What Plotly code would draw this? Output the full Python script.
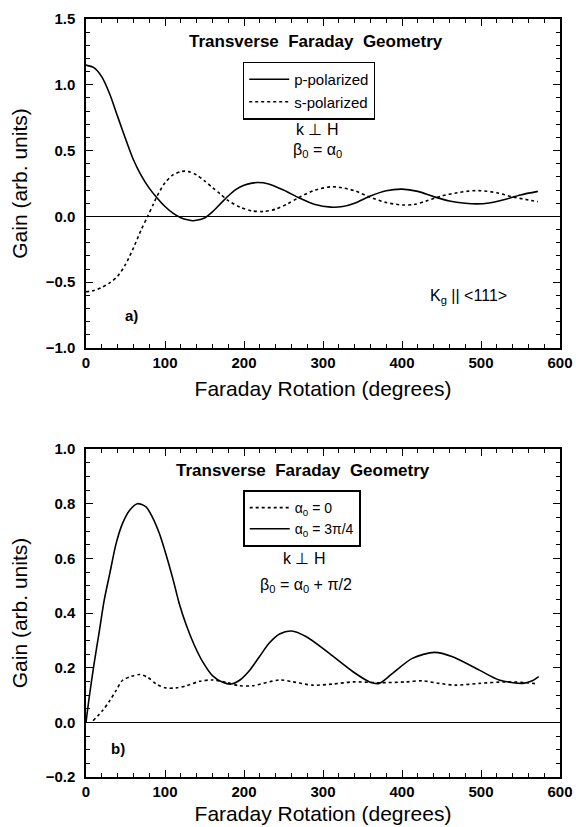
import plotly.graph_objects as go

# ---------------- data ----------------
# Panel a) : Transverse Faraday geometry, beta0 = alpha0
x_p = [0, 10, 20, 30, 40, 50, 60, 70, 80, 90, 100, 110, 120, 130, 135, 140, 150,
       160, 170, 180, 190, 200, 210, 218, 230, 250, 270, 290, 310, 325, 340, 360,
       380, 400, 420, 440, 460, 480, 495, 510, 530, 550, 572]
y_p = [1.15, 1.13, 1.06, 0.93, 0.76, 0.59, 0.43, 0.31, 0.215, 0.14, 0.075, 0.025,
       -0.01, -0.028, -0.033, -0.03, -0.012, 0.035, 0.095, 0.155, 0.205, 0.237,
       0.253, 0.257, 0.248, 0.2, 0.14, 0.09, 0.07, 0.075, 0.1, 0.155, 0.195, 0.207,
       0.19, 0.15, 0.117, 0.1, 0.095, 0.102, 0.128, 0.163, 0.19]

x_s = [0, 10, 20, 30, 40, 50, 60, 70, 78, 85, 90, 100, 110, 120, 125, 130, 140,
       150, 160, 170, 180, 195, 210, 225, 240, 255, 270, 290, 310, 320, 340, 360,
       380, 400, 415, 430, 450, 470, 490, 500, 520, 540, 560, 572]
y_s = [-0.573, -0.563, -0.54, -0.505, -0.455, -0.365, -0.24, -0.1, 0.0, 0.09, 0.155,
       0.255, 0.315, 0.34, 0.344, 0.34, 0.315, 0.27, 0.22, 0.17, 0.12, 0.07, 0.042,
       0.037, 0.055, 0.095, 0.145, 0.2, 0.225, 0.222, 0.195, 0.145, 0.105, 0.087,
       0.09, 0.115, 0.155, 0.18, 0.195, 0.195, 0.18, 0.148, 0.125, 0.112]

# Panel b) : Transverse Faraday geometry, beta0 = alpha0 + pi/2
x_b0 = [9, 21, 30, 38, 46, 57, 68, 78, 89, 101, 114, 127, 144, 160, 177, 194, 211,
        245, 262, 287, 312, 338, 371, 405, 426, 447, 468, 498, 532, 558, 572]
y_b0 = [0.006, 0.043, 0.079, 0.116, 0.153, 0.168, 0.175, 0.165, 0.14, 0.126, 0.126,
        0.134, 0.15, 0.155, 0.1465, 0.134, 0.134, 0.155, 0.148, 0.136, 0.14, 0.148,
        0.145, 0.148, 0.152, 0.1425, 0.136, 0.1425, 0.148, 0.145, 0.14]

x_b34 = [0, 4, 10, 17, 23, 30, 38, 46, 55, 65, 76, 84, 93, 101, 110, 118, 127, 137,
         148, 160, 173, 184, 194, 207, 219, 232, 245, 260, 279, 308, 338, 359, 371,
         388, 413, 441, 464, 498, 523, 553, 565, 573]
y_b34 = [0.0, 0.09, 0.21, 0.336, 0.446, 0.543, 0.653, 0.726, 0.775, 0.80, 0.788,
         0.751, 0.69, 0.617, 0.525, 0.435, 0.355, 0.283, 0.22, 0.171, 0.1465, 0.14,
         0.153, 0.19, 0.238, 0.29, 0.323, 0.334, 0.313, 0.252, 0.185, 0.148, 0.1425,
         0.179, 0.234, 0.256, 0.24, 0.191, 0.155, 0.1425, 0.152, 0.167]

x_ticks = [0, 100, 200, 300, 400, 500, 600]
y_ticks_a = [-1.0, -0.5, 0.0, 0.5, 1.0, 1.5]
y_ticks_b = [-0.2, 0.0, 0.2, 0.4, 0.6, 0.8, 1.0]

# ---------------- styling ----------------
FONT = "Liberation Sans"
BLACK = "black"
LW = 1.6

fig = go.Figure()

fig.add_trace(go.Scatter(x=x_p, y=y_p, mode="lines", name="p-polarized",
                         line=dict(color=BLACK, width=LW, shape="spline", smoothing=0.8),
                         xaxis="x", yaxis="y", legend="legend"))
fig.add_trace(go.Scatter(x=x_s, y=y_s, mode="lines", name="s-polarized",
                         line=dict(color=BLACK, width=LW, dash="dot", shape="spline", smoothing=0.8),
                         xaxis="x", yaxis="y", legend="legend"))
fig.add_trace(go.Scatter(x=x_b0, y=y_b0, mode="lines", name="α<sub>0</sub> = 0",
                         line=dict(color=BLACK, width=LW, dash="dot", shape="spline", smoothing=0.8),
                         xaxis="x2", yaxis="y2", legend="legend2"))
fig.add_trace(go.Scatter(x=x_b34, y=y_b34, mode="lines", name="α<sub>0</sub> = 3π/4",
                         line=dict(color=BLACK, width=LW, shape="spline", smoothing=0.8),
                         xaxis="x2", yaxis="y2", legend="legend2"))

tickfont = dict(family=FONT, size=15, color=BLACK, weight="bold")
titlefont = dict(family=FONT, size=21, color=BLACK)


def xaxis(anchor, standoff):
    return dict(anchor=anchor, domain=[0, 1], range=[0, 600], tickvals=x_ticks,
                ticks="inside", ticklen=7, tickwidth=1.3, tickcolor=BLACK,
                minor=dict(ticks="inside", dtick=20, ticklen=4, tickwidth=1, tickcolor=BLACK),
                showline=True, linecolor=BLACK, linewidth=1.5, mirror="ticks",
                showgrid=False, zeroline=False, tickfont=tickfont, automargin=False,
                title=dict(text="Faraday Rotation (degrees)", font=titlefont, standoff=standoff))


def yaxis(anchor, dom, rng, tv, mdt):
    return dict(anchor=anchor, domain=dom, range=rng, tickvals=tv, tickformat=".1f",
                ticks="inside", ticklen=7, tickwidth=1.3, tickcolor=BLACK,
                minor=dict(ticks="inside", dtick=mdt, ticklen=4, tickwidth=1, tickcolor=BLACK),
                showline=True, linecolor=BLACK, linewidth=1.5, mirror="ticks",
                showgrid=False, zeroline=True, zerolinecolor=BLACK, zerolinewidth=1.3,
                tickfont=tickfont, ticklabelstandoff=6, automargin=False,
                title=dict(text="Gain (arb. units)", font=titlefont, standoff=12))


ann_font = dict(family=FONT, size=16, color=BLACK)
bold_font = dict(family=FONT, size=15, color=BLACK, weight="bold")
title_font = dict(family=FONT, size=17, color=BLACK, weight="bold")
sp = "\u00a0"
title_txt = f"Transverse{sp}{sp}Faraday{sp}{sp}Geometry"


def ann(text, x, y, xref, yref, font):
    return dict(text=text, x=x, y=y, xref=xref, yref=yref, showarrow=False,
                xanchor="center", yanchor="middle", font=font)


annotations = [
    ann(title_txt, 0.486, 0.931, "x domain", "y domain", title_font),
    ann("k ⊥ H", 0.488, 0.665, "x domain", "y domain", ann_font),
    ann("β<sub>0</sub> = α<sub>0</sub>", 0.488, 0.600, "x domain", "y domain", ann_font),
    ann("a)", 0.096, 0.10, "x domain", "y domain", bold_font),
    ann("K<sub>g</sub> || &lt;111&gt;", 0.806, 0.156, "x domain", "y domain", ann_font),
    ann(title_txt, 0.458, 0.936, "x2 domain", "y2 domain", title_font),
    ann("k ⊥ H", 0.46, 0.665, "x2 domain", "y2 domain", ann_font),
    ann("β<sub>0</sub> = α<sub>0</sub> + π/2", 0.464, 0.585, "x2 domain", "y2 domain", ann_font),
    ann("b)", 0.0675, 0.088, "x2 domain", "y2 domain", bold_font),
]

fig.update_layout(
    width=576, height=827,
    margin=dict(l=86, r=16, t=19, b=50, autoexpand=False),
    paper_bgcolor="white", plot_bgcolor="white",
    font=dict(family=FONT, color=BLACK),
    xaxis=xaxis("y", 12),
    yaxis=yaxis("x", [0.566, 1.0], [-1.0, 1.5], y_ticks_a, 0.1),
    xaxis2=xaxis("y2", 8),
    yaxis2=yaxis("x2", [0.0, 0.4327], [-0.2, 1.0], y_ticks_b, 0.05),
    legend=dict(x=0.331, y=0.9437, xanchor="left", yanchor="top",
                bgcolor="white", bordercolor=BLACK, borderwidth=1.3,
                font=dict(family=FONT, size=15, color=BLACK),
                itemwidth=40, tracegroupgap=0),
    legend2=dict(x=0.3306, y=0.3786, xanchor="left", yanchor="top",
                 bgcolor="white", bordercolor=BLACK, borderwidth=2,
                 font=dict(family=FONT, size=14, color=BLACK),
                 itemwidth=40, tracegroupgap=0),
    annotations=annotations,
    showlegend=True,
)

# Remove the page's default body margin so the figure sits at the window origin.
fig.write_html("out.html",
               config={"displayModeBar": False},
               post_script="document.body.style.margin='0';document.body.style.overflow='hidden';")
